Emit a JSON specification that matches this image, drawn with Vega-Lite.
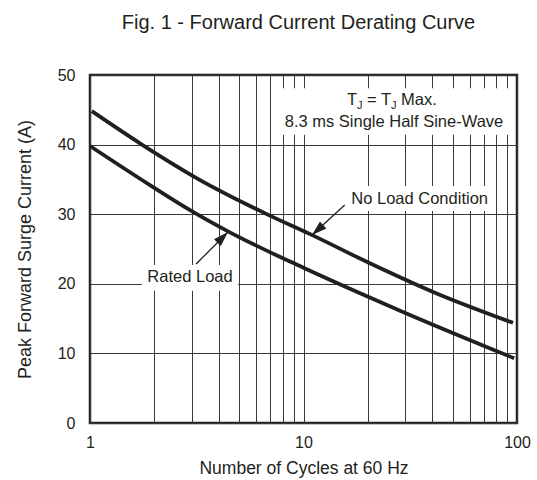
{
  "$schema": "https://vega.github.io/schema/vega-lite/v6.json",
  "width": 427,
  "height": 348,
  "autosize": {"type": "none"},
  "padding": {"left": 90, "top": 75, "right": 20, "bottom": 57},
  "background": "white",
  "title": {
    "text": "Fig. 1 - Forward Current Derating Curve",
    "font": "Liberation Sans",
    "fontSize": 20,
    "fontWeight": "normal",
    "color": "#231f20",
    "anchor": "middle",
    "offset": 34,
    "dx": -5
  },
  "config": {
    "view": {"stroke": "#231f20", "strokeWidth": 2.5},
    "axis": {
      "labelFont": "Liberation Sans",
      "titleFont": "Liberation Sans",
      "labelColor": "#231f20",
      "titleColor": "#231f20",
      "titleFontWeight": "normal",
      "labelFontSize": 16,
      "titleFontSize": 18,
      "grid": true,
      "gridColor": "#3a3a3a",
      "gridWidth": 1,
      "gridOpacity": 1,
      "ticks": false,
      "tickSize": 0,
      "domain": false,
      "labelFlush": false,
      "labelOverlap": false
    }
  },
  "datasets": {
    "curves": [
      {"series": "No Load", "x": 1.02, "y": 44.8},
      {"series": "No Load", "x": 1.75, "y": 40.0},
      {"series": "No Load", "x": 3.11, "y": 35.3},
      {"series": "No Load", "x": 6.84, "y": 29.9},
      {"series": "No Load", "x": 10.8, "y": 27.1},
      {"series": "No Load", "x": 20.0, "y": 23.1},
      {"series": "No Load", "x": 40.7, "y": 18.8},
      {"series": "No Load", "x": 95.8, "y": 14.4},
      {"series": "Rated", "x": 1.0, "y": 39.8},
      {"series": "Rated", "x": 1.95, "y": 34.0},
      {"series": "Rated", "x": 3.01, "y": 30.4},
      {"series": "Rated", "x": 4.45, "y": 27.5},
      {"series": "Rated", "x": 10.0, "y": 22.3},
      {"series": "Rated", "x": 28.5, "y": 16.1},
      {"series": "Rated", "x": 97.0, "y": 9.3}
    ],
    "boxes": [
      {"x": 7.77, "x2": 92.8, "y": 48.1, "y2": 41.4},
      {"x": 15.6, "x2": 78.9, "y": 34.05, "y2": 30.46},
      {"x": 1.75, "x2": 4.94, "y": 22.7, "y2": 19.0}
    ],
    "arrows": [
      {"x": 4.43, "y": 27.44, "x2": 3.14, "y2": 22.84, "angle": 45},
      {"x": 10.96, "y": 27.01, "x2": 15.6, "y2": 31.32, "angle": 228}
    ],
    "labels": [
      {"x": 26.54, "y": 43.25, "text": "8.3 ms Single Half Sine-Wave"},
      {"x": 35.0, "y": 32.2, "text": "No Load Condition"},
      {"x": 2.94, "y": 21.0, "text": "Rated Load"}
    ],
    "legend": [
      {"x": 15.99, "y": 46.4, "text": "T", "fs": 16.5},
      {"x": 17.81, "y": 45.6, "text": "J", "fs": 11},
      {"x": 19.83, "y": 46.4, "text": "=", "fs": 16.5},
      {"x": 23.07, "y": 46.4, "text": "T", "fs": 16.5},
      {"x": 25.7, "y": 45.6, "text": "J", "fs": 11},
      {"x": 28.62, "y": 46.4, "text": "Max.", "fs": 16.5}
    ]
  },
  "encoding": {
    "x": {
      "field": "x",
      "type": "quantitative",
      "scale": {"type": "log", "domain": [1, 100], "nice": false},
      "axis": {
        "title": "Number of Cycles at 60 Hz",
        "values": [1, 2, 3, 4, 5, 6, 7, 8, 9, 10, 20, 30, 40, 50, 60, 70, 80, 90, 100],
        "labelExpr": "indexof([1, 10, 100], datum.value) >= 0 ? format(datum.value, 'd') : ''",
        "labelPadding": 11,
        "titlePadding": 9,
        "titleFontSize": 17.5
      }
    },
    "y": {
      "field": "y",
      "type": "quantitative",
      "scale": {"domain": [0, 50], "nice": false, "zero": false},
      "axis": {
        "title": "Peak Forward Surge Current (A)",
        "values": [0, 10, 20, 30, 40, 50],
        "labelPadding": 15,
        "titlePadding": 23
      }
    }
  },
  "layer": [
    {
      "data": {"name": "boxes"},
      "mark": {"type": "rect", "fill": "white", "stroke": null},
      "encoding": {
        "x2": {"field": "x2"},
        "y2": {"field": "y2"}
      }
    },
    {
      "data": {"name": "curves"},
      "mark": {"type": "line", "color": "#231f20", "strokeWidth": 3.8, "strokeCap": "butt", "interpolate": "monotone"},
      "encoding": {
        "detail": {"field": "series", "type": "nominal"}
      }
    },
    {
      "data": {"name": "arrows"},
      "mark": {"type": "rule", "color": "#231f20", "strokeWidth": 1.3},
      "encoding": {
        "x2": {"field": "x2"},
        "y2": {"field": "y2"}
      }
    },
    {
      "data": {"name": "arrows"},
      "mark": {"type": "point", "shape": "M0,0L-0.32,1L0.32,1Z", "filled": true, "color": "#231f20", "opacity": 1, "size": 900},
      "encoding": {
        "angle": {"field": "angle", "type": "quantitative", "scale": null}
      }
    },
    {
      "data": {"name": "labels"},
      "mark": {"type": "text", "font": "Liberation Sans", "fontSize": 16.5, "align": "center", "baseline": "middle", "color": "#231f20"},
      "encoding": {
        "text": {"field": "text", "type": "nominal"}
      }
    },
    {
      "data": {"name": "legend"},
      "mark": {"type": "text", "font": "Liberation Sans", "align": "left", "baseline": "middle", "color": "#231f20"},
      "encoding": {
        "text": {"field": "text", "type": "nominal"},
        "size": {"field": "fs", "type": "quantitative", "scale": null}
      }
    }
  ]
}
